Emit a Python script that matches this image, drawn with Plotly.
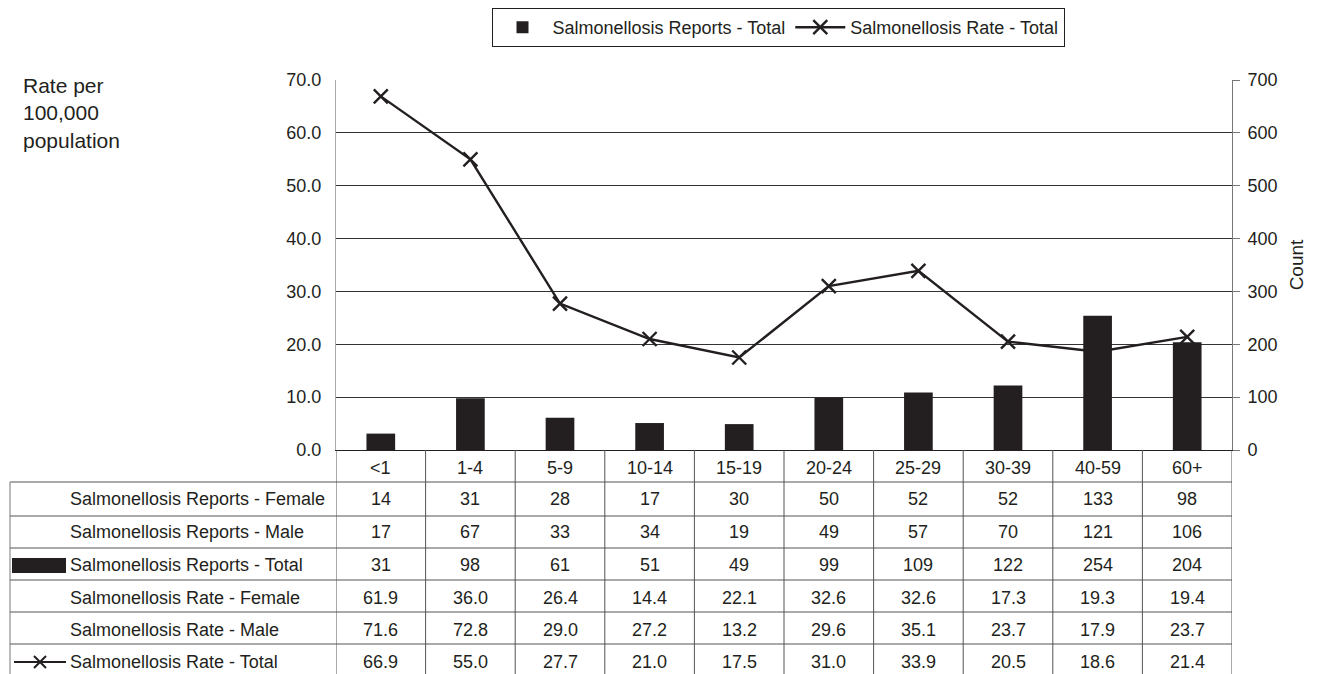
import plotly.graph_objs as go

age_groups = ['<1', '1-4', '5-9', '10-14', '15-19', '20-24', '25-29', '30-39', '40-59', '60+']
reports_female = [14, 31, 28, 17, 30, 50, 52, 52, 133, 98]
reports_male = [17, 67, 33, 34, 19, 49, 57, 70, 121, 106]
reports_total = [31, 98, 61, 51, 49, 99, 109, 122, 254, 204]
rate_female = [61.9, 36.0, 26.4, 14.4, 22.1, 32.6, 32.6, 17.3, 19.3, 19.4]
rate_male = [71.6, 72.8, 29.0, 27.2, 13.2, 29.6, 35.1, 23.7, 17.9, 23.7]
rate_total = [66.9, 55.0, 27.7, 21.0, 17.5, 31.0, 33.9, 20.5, 18.6, 21.4]

row_labels = ['Salmonellosis Reports - Female', 'Salmonellosis Reports - Male',
              'Salmonellosis Reports - Total', 'Salmonellosis Rate - Female',
              'Salmonellosis Rate - Male', 'Salmonellosis Rate - Total']
row_values = [reports_female, reports_male, reports_total, rate_female, rate_male, rate_total]
row_formats = ['{:d}', '{:d}', '{:d}', '{:.1f}', '{:.1f}', '{:.1f}']

INK = '#231f20'
FONT = 'Liberation Sans, Arial, sans-serif'

# the page body adds an 8px margin, so the figure is drawn 8px in
OFF = 8
W, H = 1319 - OFF, 674 - OFF
# plot area in page pixels
L, R, T, B = 336, 1232, 80, 450


def py(p):
    return (B - p) / (B - T)


def px(p):
    return (p - L) / (R - L)


fig = go.Figure()
fig.add_trace(go.Scatter(
    x=age_groups, y=rate_total, name='Salmonellosis Rate - Total',
    mode='lines+markers', yaxis='y',
    line=dict(color=INK, width=2.4),
    marker=dict(symbol='x-thin', size=14, line=dict(color=INK, width=2.4)),
))
fig.add_trace(go.Bar(
    x=age_groups, y=reports_total, name='Salmonellosis Reports - Total',
    yaxis='y2', width=0.32, marker=dict(color=INK, line=dict(width=0)),
))

shapes = []
annotations = []

# table grid
row_edges = [482, 516, 548, 580, 612, 644, 690]
for e in row_edges[:-1]:
    shapes.append(dict(type='line', xref='paper', yref='paper', x0=px(10), x1=1,
                       y0=py(e), y1=py(e), line=dict(color='#555', width=1)))
shapes.append(dict(type='line', xref='paper', yref='paper', x0=px(10), x1=px(10),
                   y0=py(482), y1=py(690), line=dict(color='#777', width=1)))
for k in range(len(age_groups) + 1):
    shapes.append(dict(type='line', xref='x', yref='paper', x0=k - 0.5, x1=k - 0.5,
                       y0=0, y1=py(690), line=dict(color='#555', width=1)))

# category row
for g in age_groups:
    annotations.append(dict(x=g, xref='x', y=py(468), yref='paper', text=g,
                            showarrow=False, yanchor='middle',
                            font=dict(size=18, color=INK)))

# data rows
row_centers = [499, 532, 565, 598, 630, 662]
for lab, vals, fmt, yc in zip(row_labels, row_values, row_formats, row_centers):
    annotations.append(dict(x=px(68), xref='paper', y=py(yc), yref='paper', text=lab,
                            showarrow=False, xanchor='left', yanchor='middle',
                            font=dict(size=18, color=INK)))
    for g, v in zip(age_groups, vals):
        annotations.append(dict(x=g, xref='x', y=py(yc), yref='paper', text=fmt.format(v),
                                showarrow=False, yanchor='middle',
                                font=dict(size=18, color=INK)))

# legend keys inside the table
shapes.append(dict(type='rect', xref='paper', yref='paper', x0=px(12), x1=px(66),
                   y0=py(573), y1=py(558), fillcolor=INK, line=dict(width=0)))
shapes.append(dict(type='line', xref='paper', yref='paper', x0=px(14), x1=px(66),
                   y0=py(662), y1=py(662), line=dict(color=INK, width=2)))
xc, yc, s = 40, 662, 6
shapes.append(dict(type='path', xref='paper', yref='paper',
                   path=f'M {px(xc - s)} {py(yc - s)} L {px(xc + s)} {py(yc + s)} '
                        f'M {px(xc - s)} {py(yc + s)} L {px(xc + s)} {py(yc - s)}',
                   line=dict(color=INK, width=2)))

annotations.append(dict(x=px(21), xref='paper', y=py(72), yref='paper',
                        text='Rate per<br>100,000<br>population', showarrow=False,
                        xanchor='left', yanchor='top', align='left',
                        font=dict(size=21, color=INK)))

fig.update_layout(
    width=W, height=H,
    margin=dict(l=L - OFF, r=W - (R - OFF), t=T - OFF, b=H - (B - OFF),
                autoexpand=False),
    paper_bgcolor='white', plot_bgcolor='white',
    font=dict(family=FONT, size=18, color=INK),
    showlegend=True,
    legend=dict(orientation='h', x=px(778), xanchor='center', y=py(8), yanchor='top',
                bordercolor=INK, borderwidth=1, font=dict(size=18), itemwidth=50,
                traceorder='reversed'),
    xaxis=dict(type='category', showticklabels=False, showgrid=False, ticks='',
               showline=True, linecolor=INK, linewidth=1,
               range=[-0.5, len(age_groups) - 0.5]),
    yaxis=dict(range=[0, 70], dtick=10, tickformat='.1f', showgrid=True,
               gridcolor='#333', gridwidth=1, showline=True, linecolor='#aaa',
               ticks='', ticklabelstandoff=10, zeroline=False,
               tickfont=dict(size=18)),
    yaxis2=dict(range=[0, 700], dtick=100, overlaying='y', side='right',
                showgrid=False, showline=True, linecolor='#777', ticks='outside',
                ticklen=7, tickcolor='#777', zeroline=False, ticklabelstandoff=4,
                tickfont=dict(size=18),
                title=dict(text='Count', font=dict(size=19), standoff=13)),
    shapes=shapes,
    annotations=annotations,
)

fig.write_html('out.html')
